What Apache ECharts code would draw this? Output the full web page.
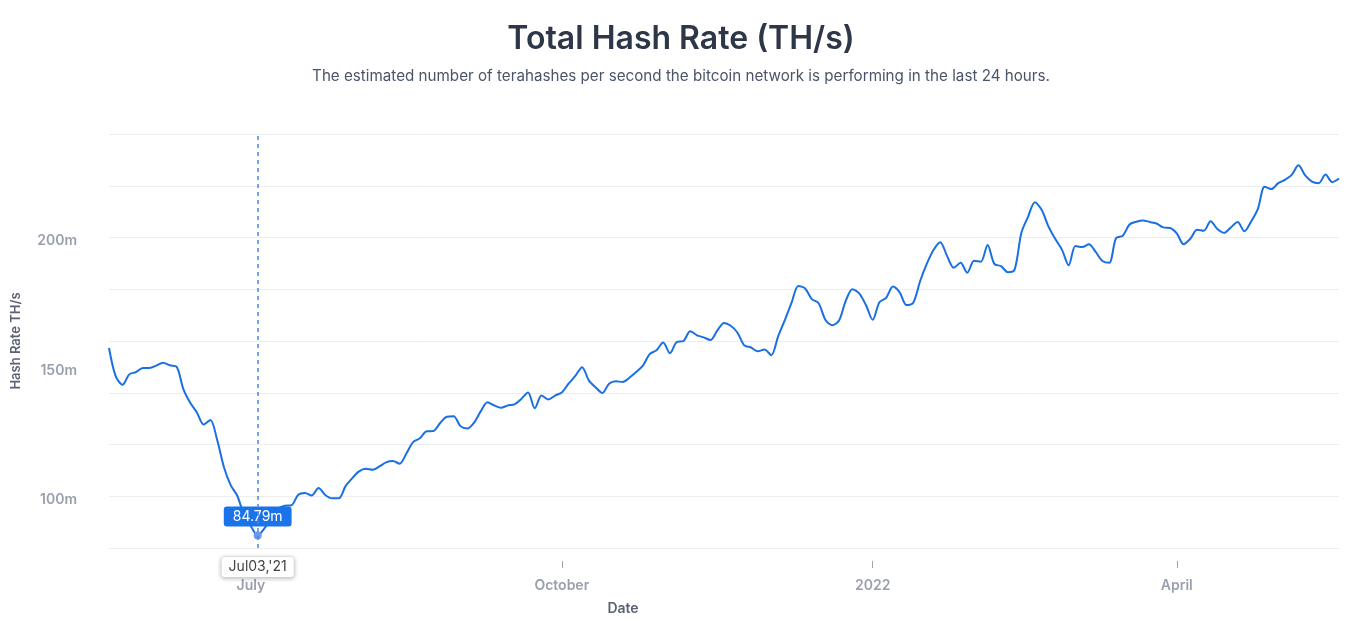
<!DOCTYPE html>
<html>
<head>
<meta charset="utf-8">
<script src="https://cdn.jsdelivr.net/npm/echarts@6/dist/echarts.min.js"></script>
<style>
  html, body { margin: 0; padding: 0; background: #fff; }
  #chart { width: 1346px; height: 621px; }
</style>
</head>
<body>
<div id="chart"></div>
<script>
// data, one value every 2 days starting at startDate (millions of TH/s)
const startDate = '2021-05-20';
const stepDays = 2;
const hashRate = [
  157.3, 146.3, 143.1, 147.1, 148.0, 149.6, 149.6, 150.5, 151.6, 150.6,
  150.1, 141.4, 136.2, 132.4, 127.7, 129.5, 121.8, 111.3, 104.3, 100.1,
  92.5, 88.4, 84.79, 87.6, 91.4, 95.2, 96.3, 96.5, 100.6, 101.3,
  100.3, 103.2, 100.5, 99.2, 99.2, 103.9, 107.0, 109.6, 110.6, 110.2,
  111.5, 113.1, 113.6, 112.6, 116.5, 120.9, 122.4, 125.1, 125.2, 128.3,
  130.7, 130.9, 127.1, 126.2, 128.4, 132.8, 136.3, 135.1, 134.2, 135.1,
  135.5, 137.6, 140.1, 134.0, 138.9, 137.4, 138.9, 140.1, 143.5, 146.5,
  149.9, 144.8, 142.1, 139.9, 143.5, 144.4, 144.2, 145.8, 148.0, 150.5,
  154.9, 156.4, 159.4, 155.3, 159.6, 160.0, 163.8, 162.2, 161.4, 160.4,
  164.0, 167.0, 165.9, 163.2, 158.3, 157.5, 156.0, 156.7, 154.5, 161.7,
  168.1, 174.8, 181.3, 180.3, 176.2, 174.6, 168.2, 166.1, 167.8, 175.4,
  180.0, 178.4, 173.9, 168.2, 175.0, 176.7, 181.1, 178.8, 173.9, 174.8,
  183.0, 189.8, 195.2, 198.2, 192.9, 188.3, 190.2, 186.4, 191.0, 190.6,
  197.1, 189.8, 188.9, 186.6, 187.6, 201.8, 208.1, 213.6, 210.7, 204.3,
  199.5, 195.3, 189.3, 196.7, 196.3, 197.4, 194.4, 190.9, 190.2, 199.7,
  200.7, 205.0, 206.1, 206.6, 206.0, 205.4, 203.9, 203.7, 201.6, 197.4,
  199.5, 203.0, 202.6, 206.3, 203.3, 201.8, 203.9, 206.0, 202.4, 206.2,
  211.1, 219.6, 218.7, 221.0, 222.3, 224.2, 227.9, 224.0, 221.6, 221.0,
  224.3, 221.4, 222.8
];
const tickDates = ['2021-07-01', '2021-10-01', '2022-01-01', '2022-04-01'];
const tickLabels = ['July', 'October', '2022', 'April'];
const yLabelValues = [100, 150, 200];
const highlightDate = '2021-07-03';
const highlightLabel = "Jul03,'21";

function toTime(s) {
  const p = s.split('-');
  return Date.UTC(+p[0], +p[1] - 1, +p[2]);
}
const dayMs = 86400000;
const t0 = toTime(startDate);
const seriesData = hashRate.map(function (v, i) { return [t0 + i * stepDays * dayMs, v]; });
const tickTimes = tickDates.map(toTime);
const hiTime = toTime(highlightDate);
const hiPoint = seriesData.find(function (p) { return p[0] === hiTime; });

const font = 'Inter, "Noto Sans", sans-serif';
const labelGray = '#9a9fad';

const chart = echarts.init(document.getElementById('chart'));
chart.setOption({
  animation: false,
  title: {
    text: 'Total Hash Rate (TH/s)',
    subtext: 'The estimated number of terahashes per second the bitcoin network is performing in the last 24 hours.',
    left: 676,
    top: 18,
    textAlign: 'center',
    itemGap: 14,
    textStyle: { fontFamily: font, fontSize: 32, fontWeight: 600, color: '#2d3748' },
    subtextStyle: { fontFamily: font, fontSize: 15.2, color: '#4a5568' }
  },
  grid: { left: 109, right: 7, top: 134, bottom: 66 },
  // dates kept as plain timestamps on a value axis so the quarter ticks can be placed exactly
  xAxis: {
    type: 'value',
    min: seriesData[0][0],
    max: seriesData[seriesData.length - 1][0],
    offset: 13,
    axisLine: { show: false },
    axisTick: { show: true, length: 7, customValues: tickTimes, lineStyle: { color: '#a0a4b0' } },
    axisLabel: {
      customValues: tickTimes,
      formatter: function (v) {
        const i = tickTimes.indexOf(v);
        return i >= 0 ? tickLabels[i] : '';
      },
      margin: 18,
      color: labelGray,
      fontFamily: font,
      fontSize: 14,
      fontWeight: 600
    },
    splitLine: { show: false },
    name: 'Date',
    nameLocation: 'middle',
    nameGap: 41,
    nameTextStyle: { fontFamily: font, fontSize: 14, fontWeight: 600, color: '#5b6170', padding: [0, 202, 0, 0] },
    axisPointer: {
      show: true,
      status: 'show',
      value: hiTime,
      type: 'line',
      lineStyle: { color: '#4a86e8', type: [4, 4], width: 1.5 },
      label: {
        show: true,
        formatter: function () { return highlightLabel; },
        backgroundColor: '#fff',
        color: '#444',
        margin: -4,
        padding: [3, 7],
        fontFamily: font,
        fontSize: 14,
        borderColor: '#ececec',
        borderWidth: 1,
        shadowBlur: 4,
        shadowColor: 'rgba(0,0,0,0.2)',
        shadowOffsetY: 1
      }
    }
  },
  yAxis: {
    type: 'value',
    min: 80,
    max: 240,
    interval: 20,
    axisLine: { show: false },
    axisTick: { show: false },
    axisLabel: {
      customValues: yLabelValues,
      formatter: function (v) { return v + 'm'; },
      margin: 32,
      verticalAlign: 'top',
      lineHeight: 7,
      color: labelGray,
      fontFamily: font,
      fontSize: 14,
      fontWeight: 600
    },
    splitLine: { lineStyle: { color: '#ededf0' } },
    name: 'Hash Rate TH/s',
    nameLocation: 'middle',
    nameGap: 86,
    nameTextStyle: { fontFamily: font, fontSize: 13, fontWeight: 600, color: '#5b6170' }
  },
  series: [{
    type: 'line',
    data: seriesData,
    showSymbol: false,
    smooth: 0.3,
    lineStyle: { color: '#1a6fe3', width: 2 },
    itemStyle: { color: '#1a6fe3' },
    markPoint: {
      symbol: 'circle',
      symbolSize: 8,
      itemStyle: { color: '#6b9be6' },
      label: {
        show: true,
        position: 'top',
        distance: 5,
        formatter: function (p) { return p.value.toFixed(2) + 'm'; },
        backgroundColor: '#1a73e8',
        color: '#fff',
        padding: [3, 9],
        borderRadius: 3,
        fontFamily: font,
        fontSize: 14
      },
      data: [{ coord: hiPoint, value: hiPoint[1] }]
    }
  }]
});

window.addEventListener('resize', function () { chart.resize(); });
</script>
</body>
</html>
